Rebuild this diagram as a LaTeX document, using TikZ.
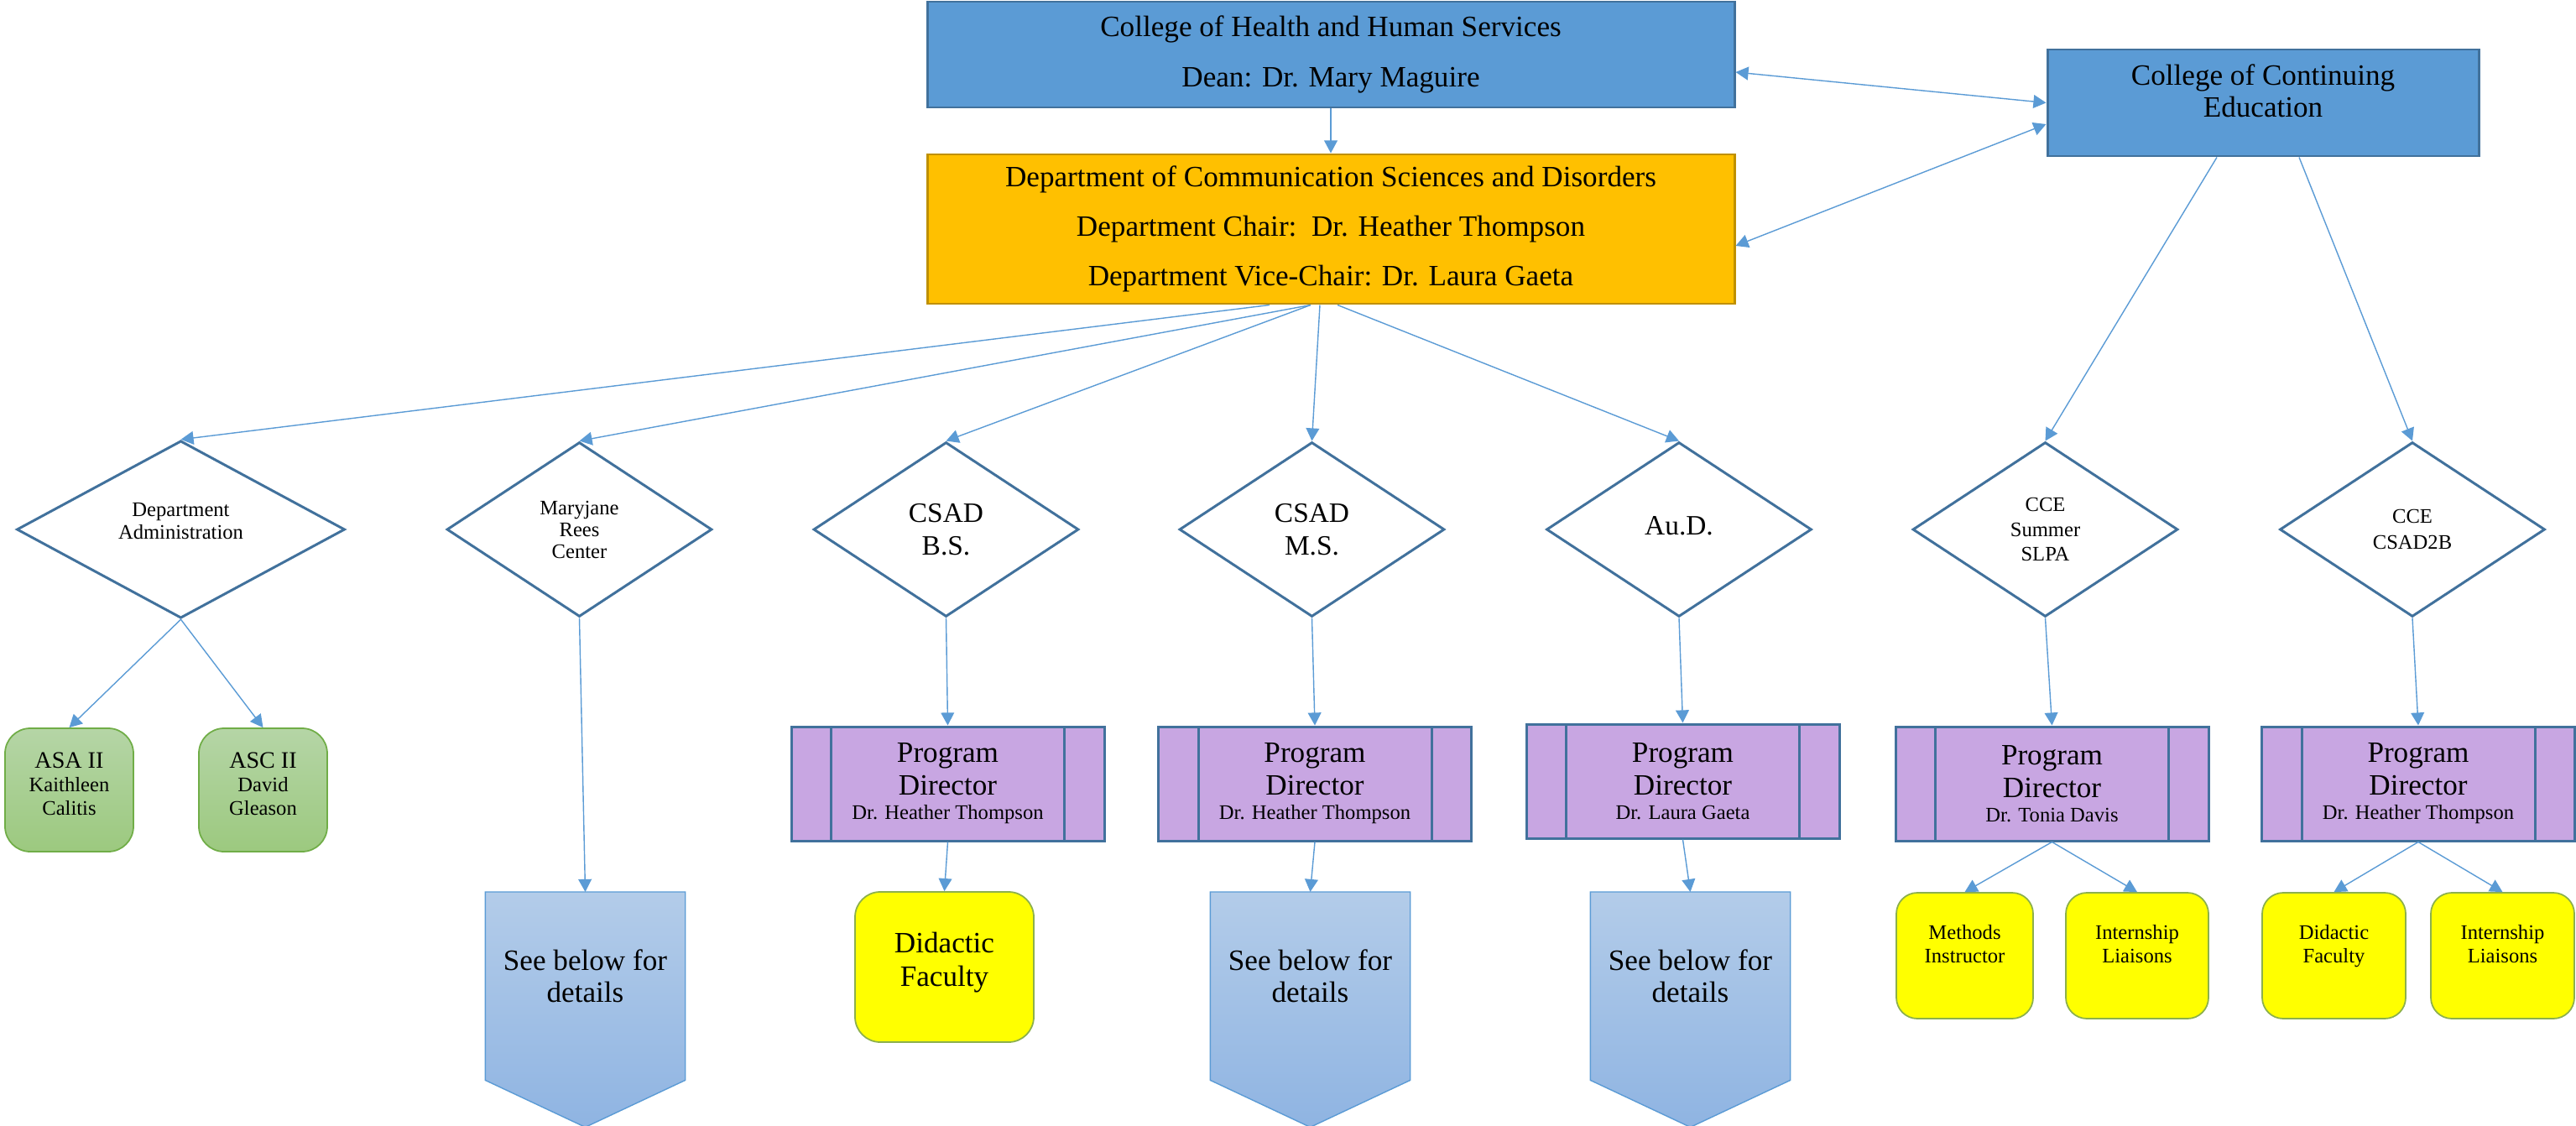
\documentclass[tikz,border=0pt]{standalone}
\usepackage{fontspec}
\setmainfont{Liberation Serif}
\usetikzlibrary{shapes.geometric,arrows.meta,backgrounds}

\definecolor{boxblue}{HTML}{5B9BD5}
\definecolor{edgeblue}{HTML}{41719C}
\definecolor{deptgold}{HTML}{FFC000}
\definecolor{edgegold}{HTML}{BF9000}
\definecolor{pdlilac}{HTML}{C8A6E2}
\definecolor{greentop}{HTML}{B5D5A6}
\definecolor{greenbot}{HTML}{9CC97F}
\definecolor{edgegreen}{HTML}{70AD47}
\definecolor{seetop}{HTML}{B3CCE9}
\definecolor{seebot}{HTML}{8FB4E2}
\definecolor{facyellow}{HTML}{FFFF00}
\definecolor{edgeolive}{HTML}{8CB04C}

\begin{document}
\begin{tikzpicture}[
  >={Triangle[length=4.3pt,width=4.5pt]},
  link/.style={draw=boxblue,line width=0.4pt,->},
  college/.style={rectangle,draw=edgeblue,fill=boxblue,line width=0.85pt,align=center,inner sep=0pt},
  deptbox/.style={rectangle,draw=edgegold,fill=deptgold,line width=0.85pt,align=center,inner sep=0pt},
  unit/.style={diamond,draw=edgeblue,fill=white,line width=0.85pt,align=center,inner sep=0pt,minimum height=2.08cm,minimum width=3.16cm},
  director/.style={rectangle,draw=edgeblue,fill=pdlilac,line width=0.85pt,align=center,inner sep=0pt,
    minimum width=3.73cm,minimum height=1.36cm,font=\fontsize{10}{11}\selectfont,
    path picture={\draw[edgeblue,line width=0.85pt]
      ([xshift=4.75mm]path picture bounding box.north west) -- ([xshift=4.75mm]path picture bounding box.south west)
      ([xshift=-4.75mm]path picture bounding box.north east) -- ([xshift=-4.75mm]path picture bounding box.south east);}},
  staff/.style={rectangle,rounded corners=0.3cm,draw=edgegreen,top color=greentop,bottom color=greenbot,line width=0.5pt,
    align=center,inner sep=0pt,minimum width=1.53cm,minimum height=1.47cm,text depth=0.15cm,font=\fontsize{7}{8}\selectfont},
  faculty/.style={rectangle,rounded corners=0.25cm,draw=edgeolive,fill=facyellow,line width=0.5pt,
    align=center,inner sep=0pt,minimum width=1.7cm,minimum height=1.5cm,text depth=0.28cm,font=\fontsize{7}{8}\selectfont},
  details/.style={rectangle,draw=none,align=center,inner sep=0pt,minimum width=2.37cm,minimum height=2.23cm,
    anchor=north,text depth=0.24cm,font=\fontsize{10}{11}\selectfont},
  chevron/.style={draw=boxblue,line width=0.4pt,top color=seetop,bottom color=seebot}
]

\useasboundingbox (0,0) rectangle (30.70,-13.42);

%% - Draw colleges and department
%% - --------------------------------------

\node[college,minimum width=9.62cm,minimum height=1.26cm,font=\fontsize{10}{17}\selectfont] (chhs) at (15.86,-0.65)
  {College of Health and Human Services\\Dean: Dr. Mary Maguire};
\node[deptbox,minimum width=9.62cm,minimum height=1.78cm,font=\fontsize{10}{16.7}\selectfont] (dept) at (15.86,-2.73)
  {Department of Communication Sciences and Disorders\\Department Chair:\ \ Dr. Heather Thompson\\Department Vice-Chair: Dr. Laura Gaeta};
\node[college,minimum width=5.14cm,minimum height=1.27cm,text depth=0.29cm,font=\fontsize{10}{11}\selectfont] (cce) at (26.97,-1.225)
  {College of Continuing\\Education};

%% - Draw programs
%% - --------------------------------------

\node[unit,minimum width=3.91cm,text depth=0.2cm,font=\fontsize{7}{7.5}\selectfont] (admin) at (2.155,-6.31) {Department\\Administration};
\node[unit,font=\fontsize{7}{7.4}\selectfont] (mrc) at (6.905,-6.31) {Maryjane\\Rees\\Center};
\node[unit,font=\fontsize{9.5}{11}\selectfont] (bs) at (11.275,-6.31) {CSAD\\B.S.};
\node[unit,font=\fontsize{9.5}{11}\selectfont] (ms) at (15.635,-6.31) {CSAD\\M.S.};
\node[unit,text depth=0.1cm,font=\fontsize{9.5}{11}\selectfont] (aud) at (20.01,-6.31) {Au.D.};
\node[unit,font=\fontsize{7}{8.5}\selectfont] (summer) at (24.375,-6.31) {CCE\\Summer\\SLPA};
\node[unit,font=\fontsize{7}{8.8}\selectfont] (d2b) at (28.75,-6.31) {CCE\\CSAD2B};

%% - Draw program directors
%% - --------------------------------------

\node[director] (bsPD) at (11.295,-9.34) {Program\\Director\\[-2.7pt]{\fontsize{7}{9}\selectfont Dr. Heather Thompson}};
\node[director] (msPD) at (15.67,-9.34) {Program\\Director\\[-2.7pt]{\fontsize{7}{9}\selectfont Dr. Heather Thompson}};
\node[director] (audPD) at (20.055,-9.31) {Program\\Director\\[-2.7pt]{\fontsize{7}{9}\selectfont Dr. Laura Gaeta}};
\node[director] (sumPD) at (24.455,-9.34) {Program\\Director\\[-2.7pt]{\fontsize{7}{9}\selectfont Dr. Tonia Davis}};
\node[director] (d2bPD) at (28.82,-9.34) {Program\\Director\\[-2.7pt]{\fontsize{7}{9}\selectfont Dr. Heather Thompson}};

%% - Draw staff and faculty
%% - --------------------------------------

\node[staff] (asa) at (0.825,-9.415) {{\fontsize{8}{9}\selectfont ASA II}\\Kaithleen\\Calitis};
\node[staff] (asc) at (3.135,-9.415) {{\fontsize{8}{9}\selectfont ASC II}\\David\\Gleason};

\node[faculty,rounded corners=0.3cm,minimum width=2.13cm,minimum height=1.79cm,text depth=0.18cm,font=\fontsize{10}{11.5}\selectfont] (bsFac) at (11.255,-11.525) {Didactic\\Faculty};
\node[faculty,minimum width=1.63cm] (sumMeth) at (23.415,-11.39) {Methods\\Instructor};
\node[faculty] (sumInt) at (25.47,-11.39) {Internship\\Liaisons};
\node[faculty,minimum width=1.71cm] (d2bFac) at (27.815,-11.39) {Didactic\\Faculty};
\node[faculty,minimum width=1.71cm] (d2bInt) at (29.825,-11.39) {Internship\\Liaisons};

%% - Draw see below boxes
%% - --------------------------------------

\node[details] (mrcSee) at (6.975,-10.63) {See below for\\details};
\node[details] (msSee) at (15.615,-10.63) {See below for\\details};
\node[details] (audSee) at (20.145,-10.63) {See below for\\details};

\begin{scope}[on background layer]
\path[chevron] (mrcSee.north west) -- (mrcSee.north east) -- (mrcSee.south east) -- ([yshift=-5.6mm]mrcSee.south) -- (mrcSee.south west) -- cycle;
\path[chevron] (msSee.north west) -- (msSee.north east) -- (msSee.south east) -- ([yshift=-5.6mm]msSee.south) -- (msSee.south west) -- cycle;
\path[chevron] (audSee.north west) -- (audSee.north east) -- (audSee.south east) -- ([yshift=-5.6mm]audSee.south) -- (audSee.south west) -- cycle;
\end{scope}

%% - Draw arrows
%% - --------------------------------------

\draw[link] (chhs.south) -- (dept.north);
\draw[link,<->] ([yshift=-2.1mm]chhs.east) -- (cce.west);
\draw[link,<->] ([yshift=-2mm]dept.east) -- ([yshift=-2.55mm]cce.west);
\draw[link] ([xshift=-5.5mm]cce.south) -- (summer.north);
\draw[link] ([xshift=4.3mm]cce.south) -- (d2b.north);

\draw[link] ([xshift=-7.3mm]dept.south) -- (admin.north);
\draw[link] ([xshift=-2.4mm]dept.south) -- (mrc.north);
\draw[link] ([xshift=-2.4mm]dept.south) -- (bs.north);
\draw[link] ([xshift=-1.3mm]dept.south) -- (ms.north);
\draw[link] ([xshift=0.8mm]dept.south) -- (aud.north);

\draw[link] (admin.south) -- (asa.north);
\draw[link] (admin.south) -- (asc.north);
\draw[link] (mrc.south) -- (mrcSee.north);
\draw[link] (bs.south) -- (bsPD.north);
\draw[link] (bsPD.south) -- (bsFac.north);
\draw[link] (ms.south) -- (msPD.north);
\draw[link] (msPD.south) -- (msSee.north);
\draw[link] (aud.south) -- (audPD.north);
\draw[link] (audPD.south) -- (audSee.north);
\draw[link] (summer.south) -- (sumPD.north);
\draw[link] (sumPD.south) -- (sumMeth.north);
\draw[link] (sumPD.south) -- (sumInt.north);
\draw[link] (d2b.south) -- (d2bPD.north);
\draw[link] (d2bPD.south) -- (d2bFac.north);
\draw[link] (d2bPD.south) -- (d2bInt.north);

\end{tikzpicture}
\end{document}
